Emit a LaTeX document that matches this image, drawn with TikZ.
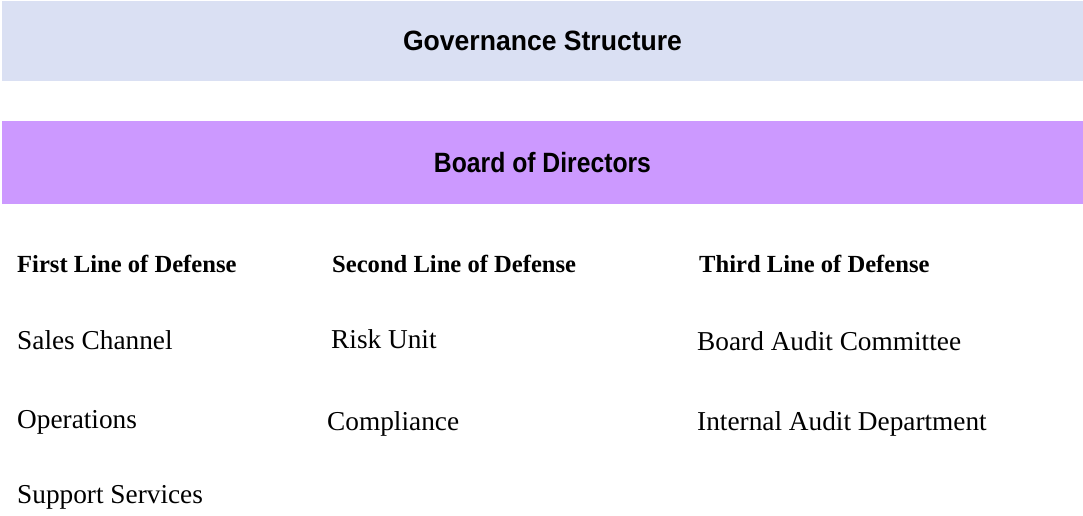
\documentclass[tikz,border=0pt]{standalone}
\usepackage{fontspec}
\usepackage{graphicx}
\setmainfont{Liberation Serif}
\newfontfamily\barfont{Liberation Sans}
\definecolor{govfill}{RGB}{218,224,243}
\definecolor{boardfill}{RGB}{204,153,255}
\begin{document}
\begin{tikzpicture}[x=1pt,y=-1pt,
  bandbox/.style={rectangle, draw=none, inner sep=0pt, minimum width=1081pt,
    font=\barfont\bfseries\fontsize{27.9}{30}\selectfont},
  colhead/.style={anchor=base west, inner sep=0pt,
    font=\bfseries\fontsize{24.6}{28}\selectfont},
  item/.style={anchor=base west, inner sep=0pt,
    font=\fontsize{27.3}{30}\selectfont}]
  \useasboundingbox (0,0) rectangle (1083,515);

  % header bands
  \node[bandbox, fill=govfill, minimum height=80pt] (gov) at (542.5,41)
    {\scalebox{0.952}[1]{Governance Structure}};
  \node[bandbox, fill=boardfill, minimum height=83pt] (board) at (542.5,162.5)
    {\scalebox{0.886}[1]{Board of Directors}};

  % first line of defense
  \node[colhead] (h1) at (17,272) {First Line of Defense};
  \node[item] (sales) at (17,349) {Sales Channel};
  \node[item] (ops) at (17,428) {Operations};
  \node[item] (support) at (17,503) {Support Services};

  % second line of defense
  \node[colhead] (h2) at (332,272) {Second Line of Defense};
  \node[item] (risk) at (331,348) {Risk Unit};
  \node[item] (comp) at (327,430) {Compliance};

  % third line of defense
  \node[colhead] (h3) at (699,272) {Third Line of Defense};
  \node[item] (bac) at (697,350) {Board Audit Committee};
  \node[item] (iad) at (697,430) {Internal Audit Department};
\end{tikzpicture}
\end{document}
